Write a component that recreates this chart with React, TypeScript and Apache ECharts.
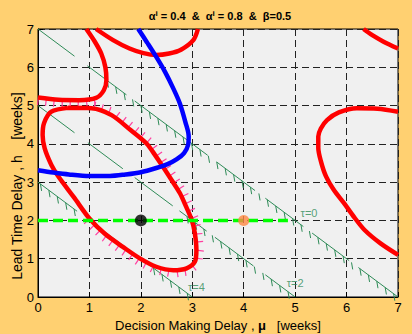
import { useEffect, useRef } from 'react';
import * as echarts from 'echarts';

const FONT = "'Liberation Sans', Arial, Helvetica, sans-serif";
const BG = '#FFD071';
const PLOT_BG = '#F0F0F0';
const RED = '#FF0000';
const BLUE = '#0000FF';
const TAU_GREEN = '#2E8B57';
const LIME = '#00FF00';
const PINK = '#FF3FA0';

const AXIS_MIN = 0;
const AXIS_MAX = 7;
const AXIS_STEP = 1;

// red stability-boundary curves [mu, h]
const RED_A = [[0.94, 7.0], [1.1, 6.68], [1.23, 6.36], [1.31, 6.0], [1.33, 5.67], [1.28, 5.4], [1.13, 5.2], [0.8, 5.14], [0.4, 5.15], [0, 5.21]];
const RED_B = [[1.13, 7.0], [1.46, 6.71], [1.78, 6.49], [2.05, 6.37], [2.3, 6.32], [2.55, 6.36], [2.78, 6.46], [3.02, 6.71], [3.11, 7.0]];
const RED_LOOP = [
  [0.58, 4.94], [1.04, 4.93], [1.43, 4.75], [1.8, 4.36], [2.11, 4.01], [2.28, 3.7], [2.43, 3.4], [2.6, 3.05], [2.76, 2.71],
  [2.88, 2.36], [2.99, 2.01], [3.05, 1.66], [3.08, 1.23], [3.05, 0.92], [2.89, 0.75], [2.63, 0.7], [2.3, 0.79],
  [1.98, 1.01], [1.65, 1.31], [1.3, 1.65], [1.0, 2.05], [0.7, 2.6], [0.4, 3.14], [0.26, 3.45], [0.13, 3.88],
  [0.09, 4.23], [0.12, 4.55], [0.26, 4.84], [0.58, 4.94],
];
const RED_D = [[7.0, 4.84], [6.6, 4.92], [6.2, 4.93], [5.85, 4.82], [5.62, 4.62], [5.5, 4.4], [5.45, 4.19], [5.45, 3.9], [5.5, 3.55], [5.6, 3.15], [5.75, 2.8], [5.95, 2.45], [6.15, 2.08], [6.35, 1.75], [6.66, 1.4], [7.0, 1.1]];
const RED_E = [[6.33, 7.0], [6.5, 6.84], [6.72, 6.67], [7.0, 6.49]];
const RED_CURVES = [RED_A, RED_B, RED_LOOP, RED_D, RED_E];

const BLUE_CURVE = [
  [1.95, 7.0], [2.12, 6.65], [2.3, 6.27], [2.47, 5.88], [2.63, 5.45], [2.76, 5.05], [2.87, 4.55], [2.93, 4.2],
  [2.92, 3.98], [2.84, 3.76], [2.7, 3.6], [2.52, 3.47], [2.3, 3.37], [2.0, 3.26], [1.7, 3.2], [1.4, 3.16],
  [1.0, 3.16], [0.6, 3.2], [0.3, 3.25], [0, 3.31],
];

// tau lines mu + h = c, drawn in pieces: [c, muStart, muEnd]
const TAU_SEGMENTS = [
  [7, 0, 0.71], [7, 0.96, 1.72], [7, 1.88, 3.3], [7, 3.47, 4.22], [7, 4.42, 5.16], [7, 5.33, 6.05], [7, 6.23, 7],
  [5, 0, 0.71], [5, 0.97, 1.65], [5, 1.88, 2.62], [5, 2.75, 3.28], [5, 3.44, 4.19], [5, 4.42, 5.0],
  [3, 0, 0.76], [3, 0.97, 1.65], [3, 1.88, 3.0],
];
// hatched ranges on the tau lines: [c, muStart, muEnd]
const TAU_HATCHES = [[7, 1.3, 7], [5, 2.85, 5], [3, 0, 0.78], [3, 2.2, 3]];
// hatched parts of red curves: [curveIndex, fromPoint, toPoint, side]
const PINK_HATCHES = [[0, 6, 9, 1], [2, 1, 20, 1]];

const LIME_LINE = [[0, 2], [4.86, 2]];
const BLACK_POINT = [[2, 2]];
const ORANGE_POINT = [[4, 2]];
const TAU_LABELS = [
  { name: 'τ=0', value: [5.27, 2.19] },
  { name: 'τ=2', value: [5.0, 0.36] },
  { name: 'τ=4', value: [3.08, 0.27] },
];

function redSeries(data: number[][]) {
  return {
    type: 'line',
    data,
    showSymbol: false,
    smooth: 0.3,
    z: 4,
    lineStyle: { color: RED, width: 4.5 },
  };
}

export default function App() {
  const ref = useRef<HTMLDivElement>(null);
  useEffect(() => {
    if (!ref.current) return;
    const chart = echarts.init(ref.current, null, { renderer: 'svg' });
    const axisCommon = {
      type: 'value',
      min: AXIS_MIN,
      max: AXIS_MAX,
      interval: AXIS_STEP,
      axisLine: { show: true, lineStyle: { color: '#000', width: 1 } },
      axisTick: { show: true, inside: true, length: 5, lineStyle: { color: '#000' } },
      axisLabel: { color: '#000', fontSize: 13, fontFamily: FONT, margin: 4 },
      splitLine: { show: true, lineStyle: { color: '#222', type: [7, 4], width: 1 } },
    };
    const option: any = {
      animation: false,
      backgroundColor: BG,
      grid: {
        left: 38, right: 14, top: 29, bottom: 37,
        show: true, backgroundColor: PLOT_BG, borderColor: '#000', borderWidth: 1,
        outerBoundsMode: 'none', containLabel: false,
      },
      xAxis: axisCommon,
      yAxis: axisCommon,
      graphic: [
        {
          type: 'text', x: 220, y: 16, z: 100,
          style: {
            text: '{a|α}{s|i}{a| = 0.4  &  α}{s|i}{a| = 0.8  &  β=0.5}',
            align: 'center', verticalAlign: 'middle',
            rich: {
              a: { fontSize: 11, fontWeight: 'bold', fontFamily: FONT, fill: '#000', lineHeight: 14 },
              s: { fontSize: 8, fontWeight: 'bold', fontFamily: FONT, fill: '#000', verticalAlign: 'top', lineHeight: 14 },
            },
          },
        },
        {
          type: 'text', x: 218, y: 325, z: 100,
          style: {
            text: '{n|Decision Making Delay , }{b|μ}{n|   [weeks]}',
            align: 'center', verticalAlign: 'middle',
            rich: {
              n: { fontSize: 13, fontFamily: FONT, fill: '#000' },
              b: { fontSize: 13, fontWeight: 'bold', fontFamily: FONT, fill: '#000' },
            },
          },
        },
        {
          type: 'text', x: 17, y: 186, rotation: Math.PI / 2, z: 100,
          style: {
            text: 'Lead Time Delay , h    [weeks]',
            align: 'center', verticalAlign: 'middle',
            fontSize: 14, fontFamily: FONT, fill: '#000',
          },
        },
      ],
      series: [
        {
          type: 'custom',
          z: 2,
          data: TAU_SEGMENTS,
          renderItem: (_p: any, api: any) => {
            const c = api.value(0), s = api.value(1), e = api.value(2);
            const p1 = api.coord([s, c - s]);
            const p2 = api.coord([e, c - e]);
            return {
              type: 'line',
              shape: { x1: p1[0], y1: p1[1], x2: p2[0], y2: p2[1] },
              style: { stroke: TAU_GREEN, lineWidth: 1, fill: null },
            };
          },
        },
        {
          type: 'custom',
          z: 2,
          data: TAU_HATCHES,
          renderItem: (_p: any, api: any) => {
            const c = api.value(0), s = api.value(1), e = api.value(2);
            const p1 = api.coord([s, c - s]);
            const p2 = api.coord([e, c - e]);
            const dx = p2[0] - p1[0], dy = p2[1] - p1[1];
            const L = Math.hypot(dx, dy);
            const children: any[] = [];
            for (let d = 3; d <= L; d += 10.5) {
              const x = p1[0] + (dx * d) / L, y = p1[1] + (dy * d) / L;
              children.push({
                type: 'line',
                shape: { x1: x, y1: y, x2: x + 1.2, y2: y + 7 },
                style: { stroke: TAU_GREEN, lineWidth: 1 },
              });
            }
            return { type: 'group', children };
          },
        },
        {
          type: 'custom',
          z: 3,
          data: PINK_HATCHES,
          renderItem: (_p: any, api: any) => {
            const ci = api.value(0), from = api.value(1), to = api.value(2), side = api.value(3);
            const pts = RED_CURVES[ci].slice(from, to + 1).map((p) => api.coord(p));
            const children: any[] = [];
            let carry = 2;
            for (let k = 0; k < pts.length - 1; k++) {
              const [x1, y1] = pts[k];
              const [x2, y2] = pts[k + 1];
              const L = Math.hypot(x2 - x1, y2 - y1);
              if (L === 0) continue;
              const tx = (x2 - x1) / L, ty = (y2 - y1) / L;
              const nx = ty * side, ny = -tx * side;
              let d = carry;
              while (d <= L) {
                const x = x1 + tx * d, y = y1 + ty * d;
                children.push({
                  type: 'line',
                  shape: { x1: x, y1: y, x2: x + nx * 7.5, y2: y + ny * 7.5 },
                  style: { stroke: PINK, lineWidth: 1.2 },
                });
                d += 8;
              }
              carry = d - L;
            }
            return { type: 'group', children };
          },
        },
        ...RED_CURVES.map((c) => redSeries(c)),
        {
          type: 'line',
          data: BLUE_CURVE,
          showSymbol: false,
          smooth: 0.3,
          z: 5,
          lineStyle: { color: BLUE, width: 4.5 },
        },
        {
          type: 'line',
          data: LIME_LINE,
          showSymbol: false,
          z: 6,
          lineStyle: { color: LIME, width: 3.5, type: [10, 5] },
        },
        {
          type: 'scatter',
          data: BLACK_POINT,
          symbolSize: 12,
          z: 7,
          itemStyle: { color: '#000' },
        },
        {
          type: 'scatter',
          data: ORANGE_POINT,
          symbolSize: 11,
          z: 7,
          itemStyle: { color: '#FF8844' },
        },
        {
          type: 'scatter',
          data: TAU_LABELS,
          symbolSize: 1,
          z: 7,
          itemStyle: { color: 'rgba(0,0,0,0)' },
          label: {
            show: true,
            position: 'inside',
            formatter: '{b}',
            color: TAU_GREEN,
            fontSize: 11,
            fontFamily: FONT,
          },
        },
      ],
    };
    chart.setOption(option);
    return () => chart.dispose();
  }, []);
  return <div ref={ref} style={{ position: 'fixed', left: 0, top: 0, width: 412, height: 334 }} />;
}
